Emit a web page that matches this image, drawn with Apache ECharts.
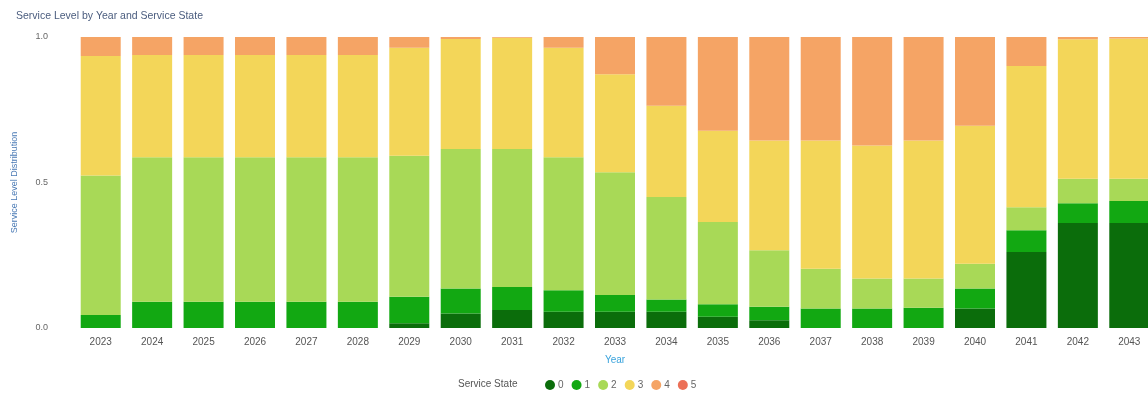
<!DOCTYPE html>
<html><head><meta charset="utf-8">
<script src="https://cdn.jsdelivr.net/npm/echarts@6/dist/echarts.min.js"></script>
<style>html,body{margin:0;padding:0;background:#fff;overflow:hidden;width:1148px;height:394px}#c{width:1160px;height:394px}</style>
</head><body><div id="c"></div>
<script>
const years = ['2023','2024','2025','2026','2027','2028','2029','2030','2031','2032','2033','2034','2035','2036','2037','2038','2039','2040','2041','2042','2043'];
const stateNames = ['0','1','2','3','4','5'];
const state0 = [0,0,0,0,0,0,0.016,0.05,0.062,0.056,0.056,0.056,0.039,0.027,0,0,0,0.067,0.261,0.361,0.361];
const state1 = [0.045,0.09,0.09,0.09,0.09,0.09,0.091,0.086,0.079,0.074,0.057,0.042,0.043,0.046,0.067,0.067,0.07,0.069,0.075,0.068,0.075];
const state2 = [0.479,0.497,0.497,0.497,0.497,0.497,0.485,0.479,0.474,0.457,0.422,0.352,0.282,0.194,0.137,0.103,0.10,0.085,0.079,0.084,0.077];
const state3 = [0.411,0.351,0.351,0.351,0.351,0.351,0.371,0.378,0.382,0.376,0.337,0.314,0.314,0.377,0.44,0.457,0.474,0.474,0.485,0.479,0.482];
const state4 = [0.065,0.062,0.062,0.062,0.062,0.062,0.037,0.007,0.003,0.037,0.128,0.236,0.322,0.356,0.356,0.373,0.356,0.305,0.10,0.008,0.005];
const state5 = [0,0,0,0,0,0,0,0,0,0,0,0,0,0,0,0,0,0,0,0,0];
const yTicks = ['0.0','0.5','1.0'];
const colors = ['#0b6d0b','#12a812','#a8d957','#f3d659','#f5a465','#ec7057'];
const allStates = [state0,state1,state2,state3,state4,state5];

const chart = echarts.init(document.getElementById('c'));
const font = 'Liberation Sans, Arial, sans-serif';
chart.setOption({
  animation:false,
  color: colors,
  textStyle:{fontFamily:font},
  title:[{
    text:'Service Level by Year and Service State', left:11, top:6,
    textStyle:{fontSize:10.5, fontWeight:'normal', color:'#4a5c7e', fontFamily:font}
  },{
    text:'Service State', left:453, top:374,
    textStyle:{fontSize:10, fontWeight:'normal', color:'#555', fontFamily:font}
  }],
  legend:{
    left:540, top:375, icon:'circle', itemWidth:10, itemHeight:10, itemGap:8,
    textStyle:{fontSize:10, color:'#666', padding:[0,0,0,-2]},
    data: stateNames
  },
  grid:{left:75, top:37, width:1080, height:291},
  xAxis:{
    type:'category', data:years,
    axisLine:{show:false}, axisTick:{show:false},
    axisLabel:{fontSize:10, color:'#555', margin:9},
    name:'Year', nameLocation:'middle', nameGap:27,
    nameTextStyle:{fontSize:10, color:'#3aa3dc'}
  },
  yAxis:{
    type:'value', min:0, max:1, interval:0.5,
    axisLine:{show:false}, axisTick:{show:false}, splitLine:{show:false},
    axisLabel:{fontSize:9, color:'#666', margin:27, formatter:v=>yTicks[Math.round(v*2)]},
    name:'Service Level Distribution', nameLocation:'middle', nameGap:56,
    nameTextStyle:{fontSize:9, color:'#4a7ab5'}
  },
  series: stateNames.map((n,i)=>({
    name:n, type:'bar', stack:'s', barWidth:40, data:allStates[i],
    itemStyle:{color:colors[i]}
  }))
});
</script></body></html>
